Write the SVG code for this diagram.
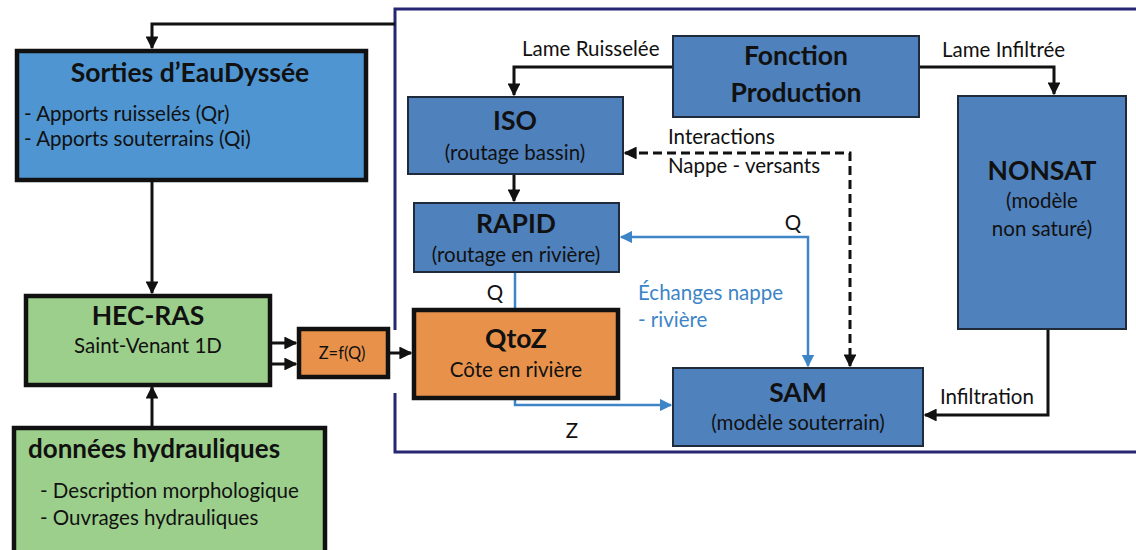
<svg xmlns="http://www.w3.org/2000/svg" width="1136" height="550" viewBox="0 0 1136 550">
<style>
text{font-family:Lato,"Open Sans","Liberation Sans",sans-serif;fill:#111}
.t{font-weight:bold;font-size:26.5px;text-anchor:middle}
.s{font-size:20.5px;text-anchor:middle}
.l{font-size:20.5px}
.lb{font-size:20.5px;fill:#3d85c6}
.inner{fill:#4f81bd;stroke:#1f2a3a;stroke-width:2}
.thick{stroke:#111;stroke-width:4.5}
.blk{fill:none;stroke:#111;stroke-width:3}
.blu{fill:none;stroke:#3d85c6;stroke-width:2.5}
</style>
<defs>
<marker id="ab" viewBox="0 0 10 10" refX="9" refY="5" markerWidth="4.3" markerHeight="4.3" orient="auto-start-reverse" markerUnits="strokeWidth"><path d="M0,0 L10,5 L0,10 Z" fill="#111"/></marker>
<marker id="au" viewBox="0 0 10 10" refX="9" refY="5" markerWidth="5" markerHeight="5" orient="auto-start-reverse" markerUnits="strokeWidth"><path d="M0,0 L10,5 L0,10 Z" fill="#3d85c6"/></marker>
</defs>

<g id="frame"><path d="M1136,9 H395 V330 M395,393 V452 H1136" fill="none" stroke="#262673" stroke-width="3"/></g>

<g id="connectors">
<path class="blk" d="M395,24 H152 V48" marker-end="url(#ab)"/>
<path class="blk" d="M152,180 V293" marker-end="url(#ab)"/>
<path class="blk" d="M152,427 V387" marker-end="url(#ab)"/>
<path class="blk" d="M270,343 H296" marker-end="url(#ab)"/>
<path class="blk" d="M270,364 H296" marker-end="url(#ab)"/>
<path class="blk" d="M388,353 H411" marker-end="url(#ab)"/>
<path class="blk" d="M673,67 H514 V95" marker-end="url(#ab)"/>
<path class="blk" d="M919,67 H1054 V94" marker-end="url(#ab)"/>
<path class="blk" d="M514,174 V201" marker-end="url(#ab)"/>
<path class="blk" d="M1048,329 V415 H925" marker-end="url(#ab)"/>
<path d="M625,153 H850 V366" fill="none" stroke="#111" stroke-width="3" stroke-dasharray="9,5" marker-start="url(#ab)" marker-end="url(#ab)"/>
<path class="blu" d="M515,272 V309"/>
<path class="blu" d="M515,398 V405 H671" marker-end="url(#au)"/>
<path class="blu" d="M621,237 H808 V366" marker-start="url(#au)" marker-end="url(#au)"/>
<text x="522" y="56" class="l">Lame Ruisselée</text>
<text x="942" y="57" class="l">Lame Infiltrée</text>
<text x="668" y="144" class="l">Interactions</text>
<text x="668" y="173" class="l">Nappe - versants</text>
<text x="793" y="230" class="l" text-anchor="middle">Q</text>
<text x="495" y="300" class="l" text-anchor="middle">Q</text>
<text x="572" y="438" class="l" text-anchor="middle">Z</text>
<text x="638" y="300" class="lb">Échanges nappe</text>
<text x="638" y="327" class="lb">- rivière</text>
<text x="940" y="404" class="l">Infiltration</text>
</g>

<g id="sorties">
<rect x="17" y="51" width="349" height="129" fill="#4e95d2" class="thick"/>
<text x="190" y="82" class="t">Sorties d’EauDyssée</text>
<text x="24" y="121" class="l">- Apports ruisselés (Qr)</text>
<text x="24" y="146" class="l">- Apports souterrains (Qi)</text>
</g>

<g id="hecras">
<rect x="26" y="296" width="244" height="89" fill="#9ccf8c" class="thick"/>
<text x="148" y="325" class="t">HEC-RAS</text>
<text x="148" y="353" class="s">Saint-Venant 1D</text>
</g>

<g id="zfq">
<rect x="299" y="329" width="89" height="48" fill="#e8914a" class="thick"/>
<text x="342" y="359" font-size="16.5" text-anchor="middle">Z=f(Q)</text>
</g>

<g id="donnees">
<rect x="14" y="428" width="311" height="130" fill="#9ccf8c" class="thick"/>
<text x="28" y="458" font-weight="bold" font-size="26">données hydrauliques</text>
<text x="40" y="498" class="l">- Description morphologique</text>
<text x="40" y="525" class="l">- Ouvrages hydrauliques</text>
</g>

<g id="fonction">
<rect x="673" y="36" width="246" height="81" class="inner"/>
<text x="796" y="65" class="t">Fonction</text>
<text x="796" y="102" class="t">Production</text>
</g>

<g id="iso">
<rect x="408" y="97" width="215" height="77" class="inner"/>
<text x="515" y="130" class="t">ISO</text>
<text x="515" y="160" class="s">(routage bassin)</text>
</g>

<g id="rapid">
<rect x="414" y="203" width="205" height="69" class="inner"/>
<text x="516" y="233" class="t">RAPID</text>
<text x="516" y="262" class="s">(routage en rivière)</text>
</g>

<g id="qtoz">
<rect x="414" y="310" width="204" height="88" fill="#e8914a" class="thick"/>
<text x="516" y="348" class="t">QtoZ</text>
<text x="516" y="377" class="s">Côte en rivière</text>
</g>

<g id="nonsat">
<rect x="958" y="96" width="168" height="233" class="inner"/>
<text x="1042" y="180" class="t">NONSAT</text>
<text x="1042" y="208" class="s">(modèle</text>
<text x="1042" y="236" class="s">non saturé)</text>
</g>

<g id="sam">
<rect x="673" y="368" width="250" height="78" class="inner"/>
<text x="798" y="402" class="t">SAM</text>
<text x="798" y="430" class="s">(modèle souterrain)</text>
</g>
</svg>
